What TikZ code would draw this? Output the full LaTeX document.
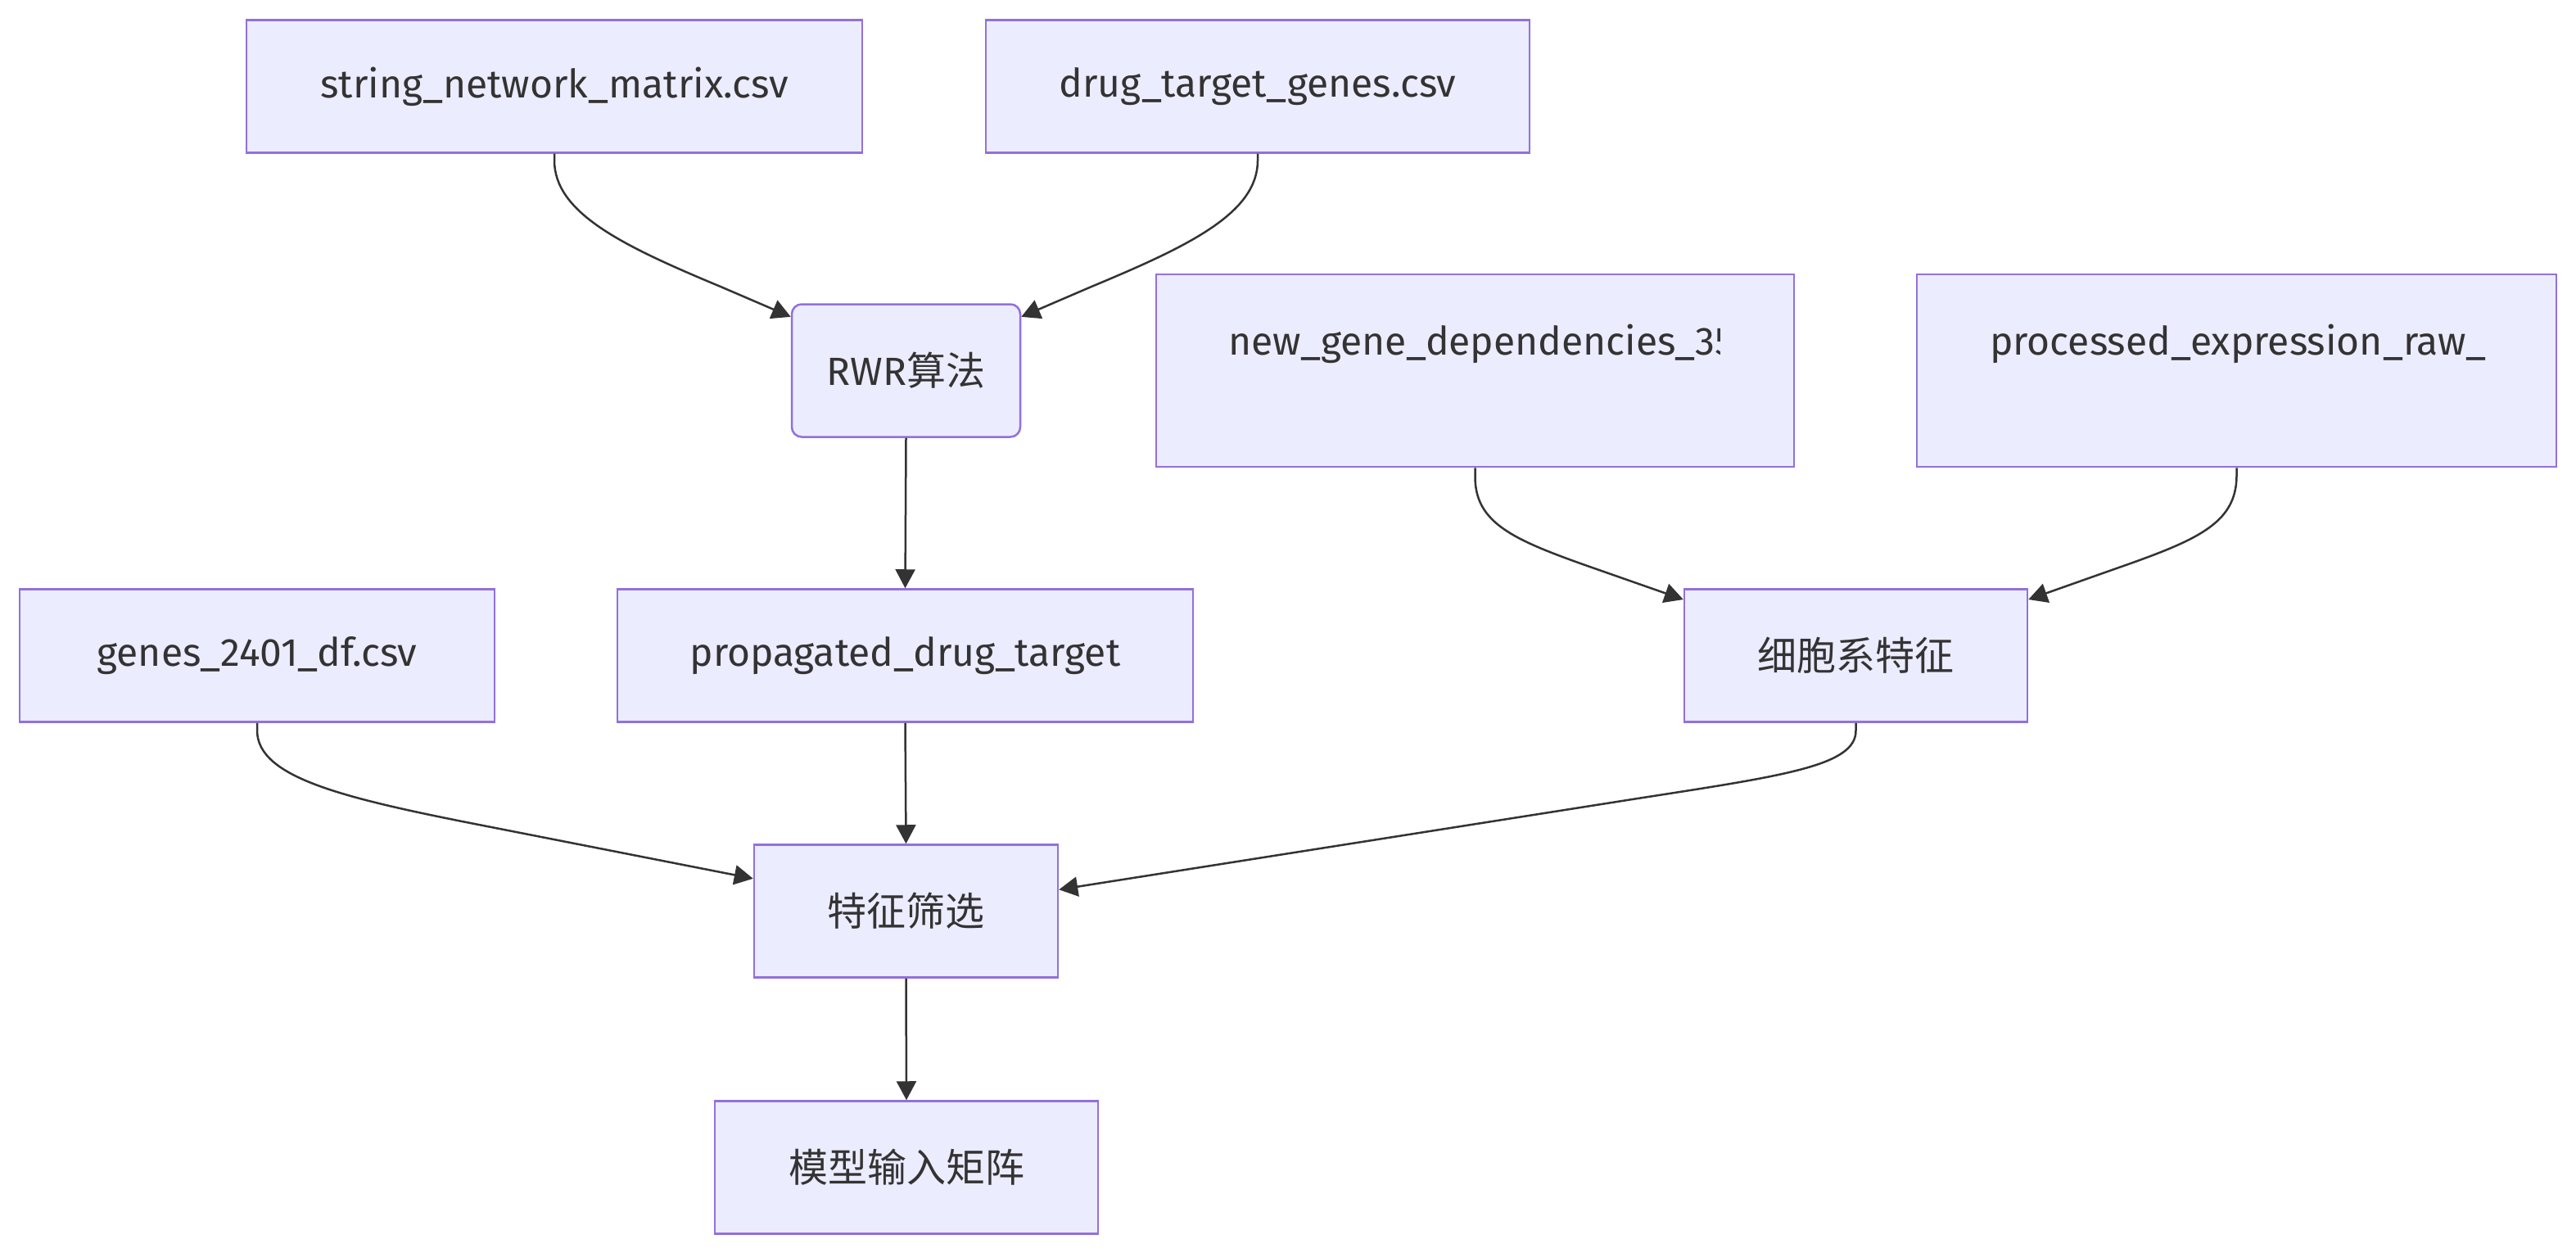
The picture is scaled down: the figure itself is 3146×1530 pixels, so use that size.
\documentclass[tikz,border=0pt]{standalone}
\usepackage{fontspec}
\setmainfont{Fira Sans}
\newfontfamily\cjk{Noto Sans CJK SC}
\usetikzlibrary{arrows.meta}
\definecolor{nfill}{HTML}{ECECFF}
\definecolor{nborder}{HTML}{9370DB}
\definecolor{ntext}{HTML}{333333}
\definecolor{edgec}{HTML}{333333}
\begin{document}
\begin{tikzpicture}[x=1pt,y=-1pt,
  txt/.style={text=ntext, inner sep=0pt, font=\fontsize{48}{57}\selectfont},
  box/.style={draw=nborder, fill=nfill, line width=2.5pt, txt, minimum height=162pt},
  rbox/.style={box, rounded corners=12pt},
  conn/.style={draw=edgec, line width=2.5pt, -{Triangle[length=23pt,width=24pt]}}
]
\useasboundingbox (0,0) rectangle (3146,1530);
\fill[white] (0,0) rectangle (3146,1530);

\node[box, minimum width=752pt] (sn) at (677,105.5) {string\_network\_matrix.csv};
\node[box, minimum width=664pt] (dt) at (1536,105.5) {drug\_target\_genes.csv};
\node[rbox, minimum width=279pt] (rwr) at (1106.5,452.5) {RWR{\cjk 算法}};
\node[box, minimum width=779pt, minimum height=235pt] (ng) at (1801.5,452.5) {};
\node[box, minimum width=781pt, minimum height=235pt] (pe) at (2731.5,452.5) {};
\begin{scope}
  \clip (1412,335) rectangle (2100,570);
  \node[txt, anchor=base west] (ngt) at (1500,433) {new\_gene\_dependencies\_35};
\end{scope}
\begin{scope}
  \clip (2341,335) rectangle (3050,570);
  \node[txt, anchor=base west] (pet) at (2430,433) {processed\_expression\_raw\_};
\end{scope}
\node[box, minimum width=580pt] (gn) at (314,800.5) {genes\_2401\_df.csv};
\node[box, minimum width=703pt] (pdt) at (1105.5,800.5) {propagated\_drug\_target};
\node[box, minimum width=419pt] (cl) at (2266.5,800.5) {{\cjk 细胞系特征}};
\node[box, minimum width=371pt] (fs) at (1106.5,1112.5) {{\cjk 特征筛选}};
\node[box, minimum width=468pt] (mm) at (1107,1425.5) {{\cjk 模型输入矩阵}};

\draw[conn] (sn.south) -- ++(0,8) .. controls (677,260) and (760,300) .. (880,350) -- (rwr.155);
\draw[conn] (dt.south) -- ++(0,8) .. controls (1536,260) and (1453,300) .. (1333,350) -- (rwr.25);
\draw[conn] (rwr.south) -- (pdt.north);
\draw[conn] (pdt.south) -- (fs.north);
\draw[conn] (fs.south) -- (mm.north);
\draw[conn] (gn.south) -- ++(0,9) .. controls (314,950) and (420,975) .. (600,1010) -- (fs.168);
\draw[conn] (cl.south) -- ++(0,9) .. controls (2267,935) and (2180,947) .. (2000,975) -- (fs.8);
\draw[conn] (ng.south) -- ++(0,10) .. controls (1801,640) and (1850,660) .. (1950,695) -- (cl.162);
\draw[conn] (pe.south) -- ++(0,10) .. controls (2731,640) and (2682,660) .. (2582,695) -- (cl.18);
\end{tikzpicture}
\end{document}
